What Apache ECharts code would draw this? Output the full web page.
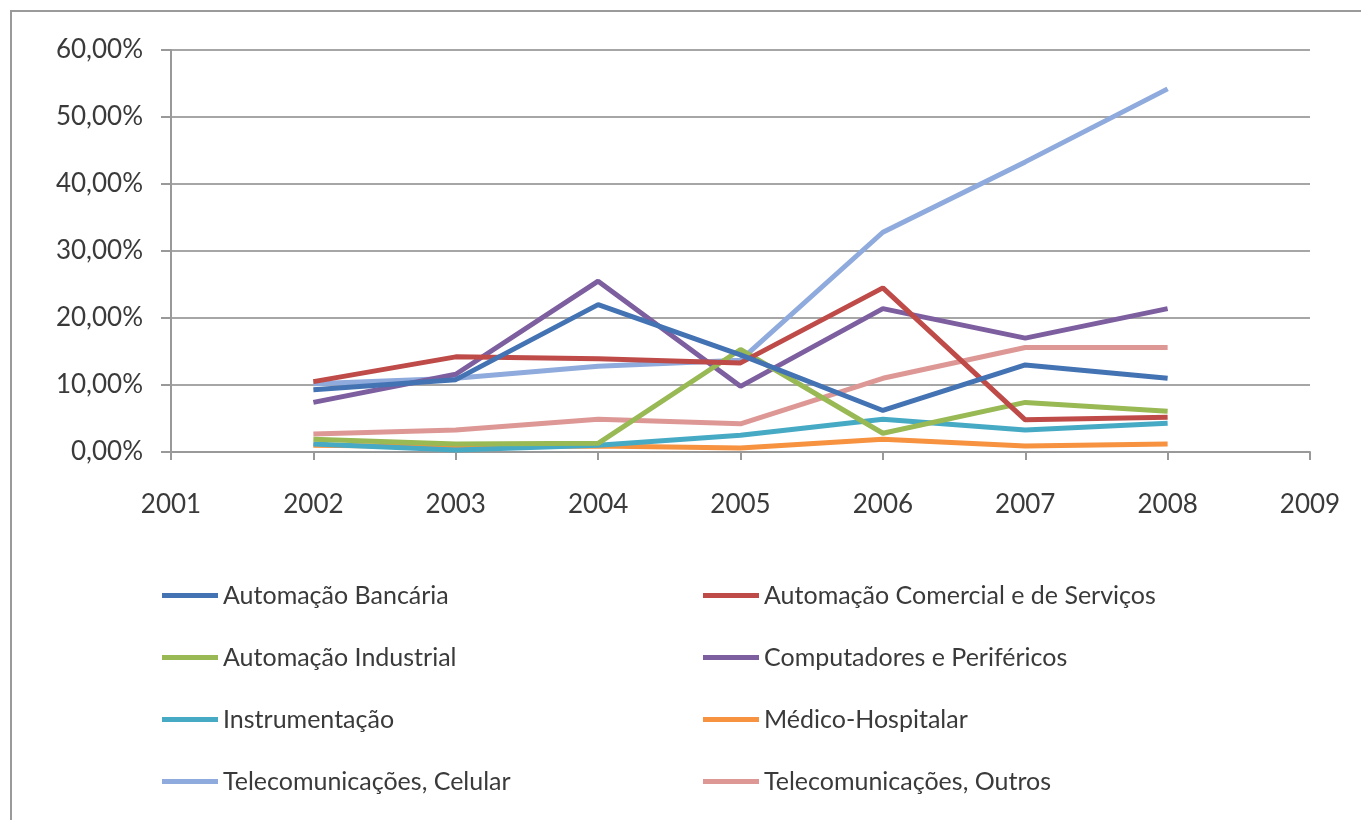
<!DOCTYPE html>
<html>
<head>
<meta charset="utf-8">
<script src="https://cdn.jsdelivr.net/npm/echarts@6/dist/echarts.min.js"></script>
<style>
  html, body { margin: 0; padding: 0; background: #fff; }
  #chart { width: 1361px; height: 820px; }
</style>
</head>
<body>
<div id="chart"></div>
<script>
// anos (eixo x)
const years = [2002, 2003, 2004, 2005, 2006, 2007, 2008]

// valores em %
const bancaria = [9.3, 10.8, 22.0, 14.5, 6.2, 13.0, 11.0]
const comercial = [10.5, 14.2, 13.9, 13.3, 24.5, 4.8, 5.2]
const industrial = [1.9, 1.2, 1.3, 15.3, 2.8, 7.4, 6.1]
const computadores = [7.4, 11.6, 25.5, 9.8, 21.4, 17.0, 21.4]
const instrumentacao = [1.2, 0.3, 1.0, 2.5, 4.9, 3.3, 4.3]
const medico = [1.0, 0.8, 0.9, 0.6, 1.9, 0.9, 1.2]
const celular = [10.2, 11.0, 12.8, 13.7, 32.8, 43.3, 54.2]
const outros = [2.7, 3.3, 4.9, 4.2, 11.0, 15.6, 15.6]

const names = [
  'Automação Bancária',
  'Automação Comercial e de Serviços',
  'Automação Industrial',
  'Computadores e Periféricos',
  'Instrumentação',
  'Médico-Hospitalar',
  'Telecomunicações, Celular',
  'Telecomunicações, Outros'
]
const colors = ['#4473B4', '#BE4B48', '#98B954', '#7D5FA0', '#46AAC5', '#F69240', '#8FAADC', '#DD9896']
const allData = [bancaria, comercial, industrial, computadores, instrumentacao, medico, celular, outros]

const font = 'Lato'
const textColor = '#3a3a3a'

const series = allData.map((vals, i) => ({
  name: names[i],
  type: 'line',
  symbol: 'none',
  data: years.map((y, k) => [y, vals[k]]),
  lineStyle: { color: colors[i], width: 5 },
  itemStyle: { color: colors[i] },
  z: 10 - i
}))

const legendCommon = {
  orient: 'vertical',
  top: 578,
  itemWidth: 56,
  itemHeight: 5,
  itemGap: 37,
  icon: 'rect',
  textStyle: { fontFamily: font, fontSize: 25, color: textColor }
}

const myChart = echarts.init(document.getElementById('chart'))
const option = {
  backgroundColor: '#fff',
  animation: false,
  color: colors,
  graphic: [{
    type: 'rect',
    shape: { x: 11, y: 11, width: 1400, height: 900 },
    style: { fill: 'none', stroke: '#9a9a9a', lineWidth: 2 },
    silent: true
  }],
  legend: [
    Object.assign({}, legendCommon, { left: 157, data: [names[0], names[2], names[4], names[6]] }),
    Object.assign({}, legendCommon, { left: 698, data: [names[1], names[3], names[5], names[7]] })
  ],
  grid: {
    left: 171,
    right: 51,
    top: 50,
    bottom: 368
  },
  xAxis: {
    type: 'value',
    min: 2001,
    max: 2009,
    interval: 1,
    axisLine: { lineStyle: { color: '#999', width: 2 } },
    axisTick: { show: true, length: 8, lineStyle: { color: '#999', width: 2 } },
    axisLabel: {
      margin: 40,
      fontFamily: font,
      fontSize: 26,
      color: textColor,
      formatter: v => String(v)
    },
    splitLine: { show: false }
  },
  yAxis: {
    type: 'value',
    min: 0,
    max: 60,
    interval: 10,
    axisLine: { show: true, lineStyle: { color: '#999', width: 2 } },
    axisTick: { show: true, length: 10, lineStyle: { color: '#999', width: 2 } },
    axisLabel: {
      margin: 28,
      fontFamily: font,
      fontSize: 26,
      color: textColor,
      formatter: v => v.toFixed(2).replace('.', ',') + '%'
    },
    splitLine: { lineStyle: { color: '#a6a6a6', width: 2 } }
  },
  series: series
}
myChart.setOption(option)
</script>
</body>
</html>
